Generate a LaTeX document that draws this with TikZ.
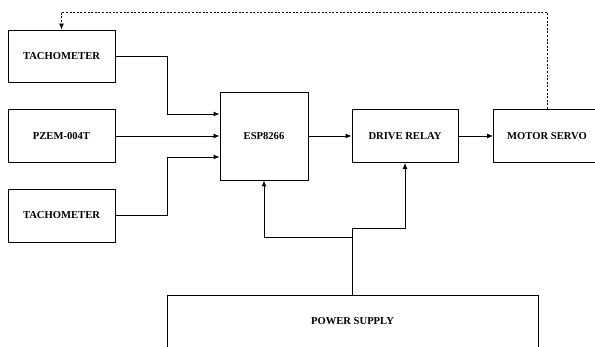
\documentclass[tikz,border=0pt]{standalone}
\usepackage{fontspec}
\setmainfont{Liberation Serif}
\usetikzlibrary{arrows.meta,calc}
\begin{document}
\begin{tikzpicture}[x=1pt,y=-1pt,
  box/.style={draw, line width=0.9pt, rectangle, inner sep=0pt, minimum width=107pt, minimum height=53pt, font=\bfseries\fontsize{10.6}{12}\selectfont},
  conn/.style={line width=0.9pt, -{Latex[length=6pt,width=5pt]}},
  fb/.style={line width=0.9pt, dash pattern=on 2pt off 1.6pt, -{Latex[length=6pt,width=5pt]}}]
\useasboundingbox (0,0) rectangle (595,347);
\clip (0,0) rectangle (595,347);
\node[box, minimum height=52pt] (tach1) at (61.5,56) {TACHOMETER};
\node[box] (pzem) at (61.5,136) {PZEM-004T};
\node[box] (tach2) at (61.5,215.5) {TACHOMETER};
\node[box, minimum width=88pt, minimum height=88pt] (esp) at (264,136) {ESP8266};
\node[box, minimum width=106pt] (relay) at (405,136) {DRIVE RELAY};
\node[box] (servo) at (547,136) {MOTOR SERVO};
\node[box, minimum width=371pt] (power) at (352.5,321.5) {POWER SUPPLY};
\coordinate (jA) at ($(power.north)+(0,-57)$);
\coordinate (jB) at ($(power.north)+(0,-66)$);
\coordinate (fbtop) at ($(servo.north)+(0,-97)$);
\draw[conn] (tach1.east) -- ++(52,0) |- ($(esp.west)+(0,-22)$);
\draw[conn] (pzem.east) -- (pzem.east -| esp.west);
\draw[conn] (tach2.east) -- ++(52,0) |- ($(esp.west)+(0,21)$);
\draw[conn] (esp.east) -- (relay.west);
\draw[conn] (relay.east) -- (servo.west);
\draw[conn] (power.north) -- (jA) -| (esp.south);
\draw[conn] (jA) -- (jB) -| (relay.south);
\draw[fb] (servo.north) -- (fbtop) -| (tach1.north);
\end{tikzpicture}
\end{document}
